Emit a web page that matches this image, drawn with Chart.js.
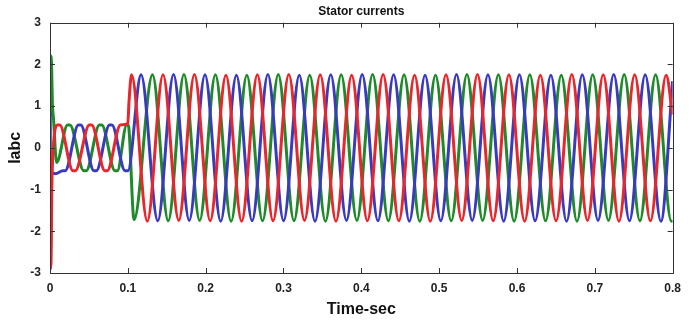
<!DOCTYPE html>
<html>
<head>
<meta charset="utf-8">
<script src="https://cdn.jsdelivr.net/npm/chart.js@4/dist/chart.umd.min.js"></script>
<style>
  html, body { margin: 0; padding: 0; background: #fff; }
  #wrap { width: 689px; height: 322px; }
</style>
</head>
<body>
<div id="wrap"><canvas id="statorChart"></canvas></div>
<script>
// phase currents at the turning points (time in s, current)
let redT = [0, 0.001, 0.0025, 0.005, 0.0095, 0.0125, 0.0295, 0.0325, 0.0505, 0.0535, 0.0705, 0.0735, 0.0905, 0.1, 0.1015, 0.1048,
  0.125, 0.1452, 0.1654, 0.1856, 0.2058, 0.226, 0.2462, 0.2664, 0.2866, 0.3068, 0.327, 0.3472, 0.3674, 0.3876, 0.4078, 0.428,
  0.4482, 0.4684, 0.4886, 0.5088, 0.529, 0.5492, 0.5694, 0.5896, 0.6098, 0.63, 0.6502, 0.6704, 0.6906, 0.7108, 0.731, 0.7512,
  0.7714, 0.7916, 0.8];
let redI = [0, -2.85, -0.8, 0.2, 0.55, 0.55, -0.55, -0.55, 0.55, 0.55, -0.55, -0.55, 0.55, 0.58, 1.1, 1.75,
  -1.76, 1.75, -1.74, 1.76, -1.75, 1.74, -1.76, 1.75, -1.75, 1.76, -1.74, 1.75, -1.76, 1.74, -1.75, 1.76,
  -1.75, 1.74, -1.76, 1.75, -1.74, 1.76, -1.75, 1.75, -1.76, 1.74, -1.75, 1.76, -1.74, 1.75, -1.76, 1.75,
  -1.75, 1.74, 0.8];

let blueT = [0, 0.0006, 0.0018, 0.007, 0.0165, 0.0195, 0.0365, 0.0395, 0.0565, 0.0595, 0.0765, 0.0795, 0.0965, 0.1, 0.117,
  0.1385, 0.1587, 0.1789, 0.1991, 0.2193, 0.2395, 0.2597, 0.2799, 0.3001, 0.3203, 0.3405, 0.3607, 0.3809, 0.4011, 0.4213,
  0.4415, 0.4617, 0.4819, 0.5021, 0.5223, 0.5425, 0.5627, 0.5829, 0.6031, 0.6233, 0.6435, 0.6637, 0.6839, 0.7041, 0.7243,
  0.7445, 0.7647, 0.7849, 0.8];
let blueI = [0.85, -2.9, -0.6, -0.62, -0.55, -0.55, 0.55, 0.55, -0.55, -0.55, 0.55, 0.55, -0.55, -0.55, 1.75,
  -1.75, 1.76, -1.74, 1.75, -1.76, 1.74, -1.75, 1.76, -1.75, 1.74, -1.76, 1.75, -1.74, 1.76, -1.75,
  1.75, -1.76, 1.74, -1.75, 1.76, -1.74, 1.75, -1.76, 1.75, -1.75, 1.74, -1.76, 1.75, -1.74, 1.76,
  -1.75, 1.75, -1.76, 1.6];

let greenT = [0, 0.0008, 0.002, 0.003, 0.0045, 0.0085, 0.0225, 0.0255, 0.0435, 0.0465, 0.0635, 0.0665, 0.0835, 0.0865, 0.0985, 0.1005, 0.108,
  0.1317, 0.1519, 0.1721, 0.1923, 0.2125, 0.2327, 0.2529, 0.2731, 0.2933, 0.3135, 0.3337, 0.3539, 0.3741, 0.3943, 0.4145,
  0.4347, 0.4549, 0.4751, 0.4953, 0.5155, 0.5357, 0.5559, 0.5761, 0.5963, 0.6165, 0.6367, 0.6569, 0.6771, 0.6973, 0.7175,
  0.7377, 0.7579, 0.7781, 0.7983, 0.8];
let greenI = [0, 2.2, 2.0, 1.1, 0.7, -0.35, 0.55, 0.55, -0.55, -0.55, 0.55, 0.55, -0.55, -0.55, 0.55, 0.55, -1.72,
  1.75, -1.75, 1.76, -1.74, 1.75, -1.76, 1.74, -1.75, 1.76, -1.75, 1.74, -1.76, 1.75, -1.74, 1.76,
  -1.75, 1.75, -1.76, 1.74, -1.75, 1.76, -1.74, 1.75, -1.76, 1.75, -1.75, 1.74, -1.76, 1.75, -1.74,
  1.76, -1.75, 1.75, -1.76, -1.74];

let xTicks = [0, 0.1, 0.2, 0.3, 0.4, 0.5, 0.6, 0.7, 0.8];
let yTicks = [-3, -2, -1, 0, 1, 2, 3];

function pts(ts, vs) {
  return ts.map((t, i) => ({ x: t, y: vs[i] }));
}

let boldFont = { family: "'Liberation Sans', Arial, sans-serif", weight: "bold", size: 12 };

// box round the axes with short ticks pointing inwards
let framePlugin = {
  id: "frame",
  afterDatasetsDraw(chart) {
    let { ctx, chartArea: a, scales } = chart;
    ctx.save();
    ctx.strokeStyle = "#333";
    ctx.lineWidth = 1;
    ctx.strokeRect(Math.round(a.left) + 0.5, Math.round(a.top) + 0.5, Math.round(a.right - a.left), Math.round(a.bottom - a.top));
    ctx.beginPath();
    xTicks.forEach(v => {
      let px = Math.round(scales.x.getPixelForValue(v)) + 0.5;
      ctx.moveTo(px, a.bottom); ctx.lineTo(px, a.bottom - 5);
      ctx.moveTo(px, a.top); ctx.lineTo(px, a.top + 5);
    });
    yTicks.forEach(v => {
      let py = Math.round(scales.y.getPixelForValue(v)) + 0.5;
      ctx.moveTo(a.left, py); ctx.lineTo(a.left + 5, py);
      ctx.moveTo(a.right, py); ctx.lineTo(a.right - 5, py);
    });
    ctx.stroke();
    ctx.restore();
  }
};

let canvasElement = document.getElementById("statorChart");
let config = {
  type: "line",
  data: {
    datasets: [
      { label: "ia", data: pts(redT, redI), borderColor: "#e8262b" },
      { label: "ib", data: pts(blueT, blueI), borderColor: "#3a3abf" },
      { label: "ic", data: pts(greenT, greenI), borderColor: "#1f8a2a" },
    ],
  },
  options: {
    responsive: true,
    maintainAspectRatio: false,
    animation: false,
    layout: { padding: { right: 12 } },
    elements: {
      point: { radius: 0 },
      line: { borderWidth: 3, cubicInterpolationMode: "monotone", fill: false },
    },
    plugins: {
      legend: { display: false },
      tooltip: { enabled: false },
      title: {
        display: true,
        text: "Stator currents",
        fullSize: false,
        color: "#111",
        font: boldFont,
        padding: { top: 4, bottom: 4.3 },
      },
    },
    scales: {
      x: {
        type: "linear",
        min: 0,
        max: 0.8,
        afterFit: s => { s.height = 49; },
        afterBuildTicks: s => { s.ticks = xTicks.map(v => ({ value: v })); },
        grid: { display: false, drawTicks: false },
        border: { display: false },
        ticks: {
          color: "#222",
          font: boldFont,
          padding: 8,
          maxRotation: 0,
          callback: v => String(+v.toFixed(1)),
        },
        title: {
          display: true,
          text: "Time-sec",
          color: "#111",
          font: { family: "'Liberation Sans', Arial, sans-serif", weight: "bold", size: 16 },
          padding: { top: 0, bottom: 3 },
        },
      },
      y: {
        type: "linear",
        min: -3,
        max: 3,
        afterFit: s => { s.width = 50; },
        afterBuildTicks: s => { s.ticks = yTicks.map(v => ({ value: v })); },
        grid: { display: false, drawTicks: false },
        border: { display: false },
        ticks: { color: "#222", font: boldFont, padding: 9 },
        title: {
          display: true,
          text: "Iabc",
          color: "#111",
          font: { family: "'Liberation Sans', Arial, sans-serif", weight: "bold", size: 16 },
          padding: { top: 6, bottom: 0 },
        },
      },
    },
  },
  plugins: [framePlugin],
};
let statorChart = new Chart(canvasElement, config);
</script>
</body>
</html>
